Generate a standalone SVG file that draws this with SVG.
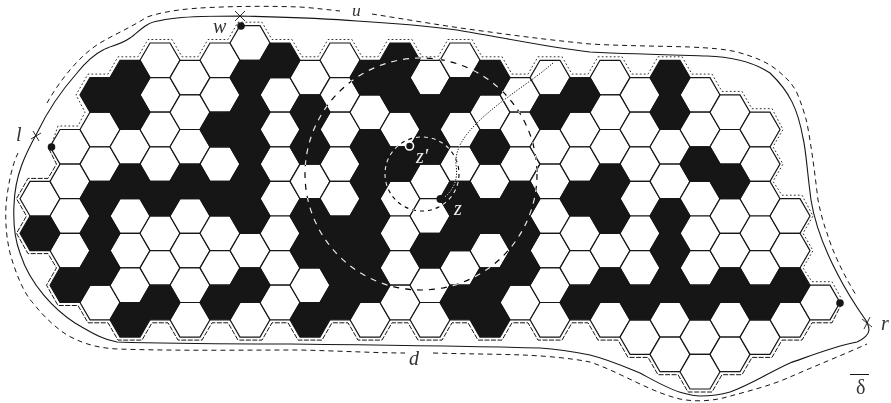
<svg xmlns="http://www.w3.org/2000/svg" xmlns:xlink="http://www.w3.org/1999/xlink" width="891" height="403" viewBox="0 0 891 403">
<style>
.w use{fill:#fff;stroke:#161616;stroke-width:1.2}
.b use{fill:#161616;stroke:#161616;stroke-width:1.2}
.sol{fill:none;stroke:#161616;stroke-width:1.1}
.out{fill:none;stroke:#161616;stroke-width:1;stroke-dasharray:5 4}
.dot{fill:none;stroke:#333;stroke-width:1;stroke-dasharray:1 3;stroke-linecap:round;stroke-linejoin:round}
.dsh{fill:none;stroke:#161616;stroke-width:1;stroke-dasharray:5 1.5}
.inv{fill:none;stroke:#fff;mix-blend-mode:difference}
.cross{fill:none;stroke:#161616;stroke-width:.9}
text{font-family:"Liberation Serif",serif;font-size:20px;fill:#333}
.it{font-style:italic}
</style>
<defs><polygon id="h" points="-20,0 -10,-17.3 10,-17.3 20,0 10,17.3 -10,17.3"/></defs>
<rect width="891" height="403" fill="#fff"/>
<g id="white-cells" class="w">
<use href="#h" x="40" y="198.7"/>
<use href="#h" x="70" y="146.8"/><use href="#h" x="70" y="181.4"/><use href="#h" x="70" y="216"/><use href="#h" x="70" y="250.6"/>
<use href="#h" x="100" y="129.5"/><use href="#h" x="100" y="164.1"/><use href="#h" x="100" y="302.5"/>
<use href="#h" x="130" y="146.8"/><use href="#h" x="130" y="216"/><use href="#h" x="130" y="250.6"/><use href="#h" x="130" y="285.2"/>
<use href="#h" x="160" y="60.3"/><use href="#h" x="160" y="94.9"/><use href="#h" x="160" y="129.5"/><use href="#h" x="160" y="164.1"/><use href="#h" x="160" y="233.3"/><use href="#h" x="160" y="267.9"/>
<use href="#h" x="190" y="77.6"/><use href="#h" x="190" y="112.2"/><use href="#h" x="190" y="146.8"/><use href="#h" x="190" y="216"/><use href="#h" x="190" y="250.6"/><use href="#h" x="190" y="285.2"/><use href="#h" x="190" y="319.8"/>
<use href="#h" x="220" y="60.3"/><use href="#h" x="220" y="94.9"/><use href="#h" x="220" y="164.1"/><use href="#h" x="220" y="233.3"/><use href="#h" x="220" y="267.9"/>
<use href="#h" x="250" y="43"/><use href="#h" x="250" y="250.6"/><use href="#h" x="250" y="319.8"/>
<use href="#h" x="280" y="94.9"/><use href="#h" x="280" y="129.5"/><use href="#h" x="280" y="164.1"/><use href="#h" x="280" y="198.7"/><use href="#h" x="280" y="233.3"/><use href="#h" x="280" y="267.9"/><use href="#h" x="280" y="302.5"/>
<use href="#h" x="310" y="77.6"/><use href="#h" x="310" y="181.4"/><use href="#h" x="310" y="285.2"/>
<use href="#h" x="340" y="60.3"/><use href="#h" x="340" y="94.9"/><use href="#h" x="340" y="129.5"/><use href="#h" x="340" y="164.1"/><use href="#h" x="340" y="198.7"/>
<use href="#h" x="370" y="112.2"/><use href="#h" x="370" y="319.8"/>
<use href="#h" x="400" y="129.5"/><use href="#h" x="400" y="198.7"/><use href="#h" x="400" y="233.3"/><use href="#h" x="400" y="267.9"/><use href="#h" x="400" y="302.5"/>
<use href="#h" x="430" y="77.6"/><use href="#h" x="430" y="181.4"/><use href="#h" x="430" y="216"/><use href="#h" x="430" y="285.2"/><use href="#h" x="430" y="319.8"/>
<use href="#h" x="460" y="60.3"/><use href="#h" x="460" y="129.5"/><use href="#h" x="460" y="164.1"/><use href="#h" x="460" y="267.9"/>
<use href="#h" x="490" y="112.2"/><use href="#h" x="490" y="181.4"/><use href="#h" x="490" y="250.6"/>
<use href="#h" x="520" y="94.9"/><use href="#h" x="520" y="129.5"/><use href="#h" x="520" y="164.1"/><use href="#h" x="520" y="302.5"/>
<use href="#h" x="550" y="77.6"/><use href="#h" x="550" y="146.8"/><use href="#h" x="550" y="181.4"/><use href="#h" x="550" y="216"/><use href="#h" x="550" y="250.6"/><use href="#h" x="550" y="285.2"/><use href="#h" x="550" y="319.8"/>
<use href="#h" x="580" y="129.5"/><use href="#h" x="580" y="164.1"/><use href="#h" x="580" y="233.3"/><use href="#h" x="580" y="267.9"/>
<use href="#h" x="610" y="77.6"/><use href="#h" x="610" y="112.2"/><use href="#h" x="610" y="146.8"/><use href="#h" x="610" y="250.6"/><use href="#h" x="610" y="319.8"/>
<use href="#h" x="640" y="94.9"/><use href="#h" x="640" y="129.5"/><use href="#h" x="640" y="164.1"/><use href="#h" x="640" y="198.7"/><use href="#h" x="640" y="233.3"/><use href="#h" x="640" y="267.9"/><use href="#h" x="640" y="337.1"/>
<use href="#h" x="670" y="146.8"/><use href="#h" x="670" y="181.4"/><use href="#h" x="670" y="319.8"/><use href="#h" x="670" y="354.4"/>
<use href="#h" x="700" y="94.9"/><use href="#h" x="700" y="129.5"/><use href="#h" x="700" y="198.7"/><use href="#h" x="700" y="233.3"/><use href="#h" x="700" y="267.9"/><use href="#h" x="700" y="337.1"/><use href="#h" x="700" y="371.7"/>
<use href="#h" x="730" y="112.2"/><use href="#h" x="730" y="146.8"/><use href="#h" x="730" y="216"/><use href="#h" x="730" y="250.6"/><use href="#h" x="730" y="319.8"/><use href="#h" x="730" y="354.4"/>
<use href="#h" x="760" y="129.5"/><use href="#h" x="760" y="164.1"/><use href="#h" x="760" y="198.7"/><use href="#h" x="760" y="233.3"/><use href="#h" x="760" y="267.9"/><use href="#h" x="760" y="337.1"/>
<use href="#h" x="790" y="216"/><use href="#h" x="790" y="250.6"/><use href="#h" x="790" y="319.8"/>
<use href="#h" x="820" y="302.5"/>
</g>
<g id="black-cells" class="b">
<use href="#h" x="40" y="233.3"/>
<use href="#h" x="70" y="285.2"/>
<use href="#h" x="100" y="94.9"/><use href="#h" x="100" y="198.7"/><use href="#h" x="100" y="233.3"/><use href="#h" x="100" y="267.9"/>
<use href="#h" x="130" y="77.6"/><use href="#h" x="130" y="112.2"/><use href="#h" x="130" y="181.4"/><use href="#h" x="130" y="319.8"/>
<use href="#h" x="160" y="198.7"/><use href="#h" x="160" y="302.5"/>
<use href="#h" x="190" y="181.4"/>
<use href="#h" x="220" y="129.5"/><use href="#h" x="220" y="198.7"/><use href="#h" x="220" y="302.5"/>
<use href="#h" x="250" y="77.6"/><use href="#h" x="250" y="112.2"/><use href="#h" x="250" y="146.8"/><use href="#h" x="250" y="181.4"/><use href="#h" x="250" y="216"/><use href="#h" x="250" y="285.2"/>
<use href="#h" x="280" y="60.3"/>
<use href="#h" x="310" y="112.2"/><use href="#h" x="310" y="146.8"/><use href="#h" x="310" y="216"/><use href="#h" x="310" y="250.6"/><use href="#h" x="310" y="319.8"/>
<use href="#h" x="340" y="233.3"/><use href="#h" x="340" y="267.9"/><use href="#h" x="340" y="302.5"/>
<use href="#h" x="370" y="77.6"/><use href="#h" x="370" y="146.8"/><use href="#h" x="370" y="181.4"/><use href="#h" x="370" y="216"/><use href="#h" x="370" y="250.6"/><use href="#h" x="370" y="285.2"/>
<use href="#h" x="400" y="60.3"/><use href="#h" x="400" y="94.9"/><use href="#h" x="400" y="164.1"/>
<use href="#h" x="430" y="112.2"/><use href="#h" x="430" y="146.8"/><use href="#h" x="430" y="250.6"/>
<use href="#h" x="460" y="94.9"/><use href="#h" x="460" y="198.7"/><use href="#h" x="460" y="233.3"/><use href="#h" x="460" y="302.5"/>
<use href="#h" x="490" y="77.6"/><use href="#h" x="490" y="146.8"/><use href="#h" x="490" y="216"/><use href="#h" x="490" y="285.2"/><use href="#h" x="490" y="319.8"/>
<use href="#h" x="520" y="198.7"/><use href="#h" x="520" y="233.3"/><use href="#h" x="520" y="267.9"/>
<use href="#h" x="550" y="112.2"/>
<use href="#h" x="580" y="94.9"/><use href="#h" x="580" y="198.7"/><use href="#h" x="580" y="302.5"/>
<use href="#h" x="610" y="181.4"/><use href="#h" x="610" y="216"/><use href="#h" x="610" y="285.2"/>
<use href="#h" x="640" y="302.5"/>
<use href="#h" x="670" y="77.6"/><use href="#h" x="670" y="112.2"/><use href="#h" x="670" y="216"/><use href="#h" x="670" y="250.6"/><use href="#h" x="670" y="285.2"/>
<use href="#h" x="700" y="164.1"/><use href="#h" x="700" y="302.5"/>
<use href="#h" x="730" y="181.4"/><use href="#h" x="730" y="285.2"/>
<use href="#h" x="760" y="302.5"/>
<use href="#h" x="790" y="285.2"/>
</g>
<g id="boundaries">
<path class="dot" d="M51,146 L58,126 H78 L85,112.2 L76,94.9 L88,74.1 H108 L118,56.8 H138 L148,39.5 H172 L182,56.8 H198 L208,39.5 H228 L238,22.2 H262 L272,39.5 H292 L302,56.8 H318 L328,39.5 H352 L362,56.8 H378 L388,39.5 H412 L422,56.8 H438 L448,39.5 H472 L482,56.8 H502 L512,74.1 H528 L538,56.8 H562 L572,74.1 H588 L598,56.8 H622 L632,74.1 H648 L658,56.8 H682 L692,74.1 H712 L722,91.4 H742 L752,108.7 H772 L783,129.5 L773,146.8 L783,164.1 L773,181.4 L782,195.2 H802 L813,216 L803,233.3 L813,250.6 L803,267.9 L812,281.7 H832 L841,298"/>
<path class="dsh" d="M842,303 L832,322.8 H812 L802,340.1 H782 L772,357.4 H752 L742,374.7 H722 L712,392 H688 L678,374.7 H658 L648,357.4 H628 L618,340.1 H598 L588,322.8 H572 L562,340.1 H538 L528,322.8 H512 L502,340.1 H478 L468,322.8 H452 L442,340.1 H418 L408,322.8 H392 L382,340.1 H358 L348,322.8 H332 L322,340.1 H298 L288,322.8 H272 L262,340.1 H238 L228,322.8 H212 L202,340.1 H178 L168,322.8 H152 L142,340.1 H118 L108,322.8 H88 L78,305.5 H58 L46.5,285.2 L56.5,267.9 L48,253.6 H28 L16.5,233.3 L26.5,216 L16.5,198.7 L28,178.4 H48 L56.5,164.1 L49,149"/>
</g>
<g id="connectors">
<path class="sol" d="M867,322 C855,305 843,285 837,273 C825,250 815,225 811,200 C807,170 806,150 803,138 C798,110 790,92 770,73 C755,63 735,57 707,56 C670,55 630,54 590,52 C540,46 500,37 457,30 C420,25 390,23 357,21 C320,18 280,17 240,16 C215,16 195,16 177,18 C160,20 150,22 147,25 C140,29 135,35 130,38 C120,45 110,46 103,50 C95,54 85,63 77,73 C62,90 47,112 37,133 C25,155 15,175 14,205 C13,225 15,240 20,253 C30,285 55,310 75,323 C95,335 105,340 117,342 C180,344 240,344 290,344 C380,345 470,346 540,348 C555,349 575,352 590,355 C610,360 630,369 640,373 C655,381 670,390 683,393 C690,395 695,396 700,396 C710,396 720,395 730,392 C750,385 770,372 790,363 C810,356 835,346 857,342 C864,339 869,334 869,330 C869,327 868,325 867,322"/>
<path class="out" d="M18,153 C12,165 8,185 6,205 C5,225 7,240 10,253 C16,275 25,295 33,303 C45,318 55,327 67,335 C85,345 100,348 117,349 C180,351 240,350 300,350 C340,351 380,353 405,353"/>
<path class="out" d="M433,353 C465,354 495,354 523,355 C545,356 570,358 590,362 C620,372 650,392 680,399 C695,402 710,401 723,398 C745,392 770,386 790,377 C815,366 845,354 867,344"/>
<path class="out" d="M47,103 C60,80 80,55 100,43 C115,34 130,28 147,17 C165,11 185,9 200,8 C235,6 270,6 300,7 C315,8 330,10 340,11"/>
<path class="out" d="M372,14 C410,20 450,27 490,32 C525,37 560,41 590,44 C625,46 660,46 690,47 C710,48 725,49 737,52 C755,57 767,62 777,70 C788,79 793,85 797,93 C802,105 805,115 807,123 C812,150 815,175 818,200 C821,215 824,225 827,233 C832,250 842,272 856,295"/>
<circle class="inv" cx="421" cy="174" r="116" stroke-width="1.2" stroke-dasharray="6 6"/>
<circle class="inv" cx="422" cy="174" r="37" stroke-width="1.1" stroke-dasharray="4 4"/>
<path class="inv" stroke-width="1" stroke-dasharray="1.2 1.6" d="M553,63 C530,83 500,100 477,123 C462,138 455,150 456,165 C458,178 455,190 442,199"/>
<path class="cross" d="M235,11 L245,21 M245,11 L235,21 M31,139 L41,133 M33,131 L39,141 M862,319 L872,327 M870,317 L864,329"/>
<line x1="850" y1="374.5" x2="869" y2="374.5" stroke="#161616" stroke-width="1"/>
</g>
<g id="points">
<circle cx="241" cy="26" r="3.8" fill="#161616"/>
<circle cx="51.500" cy="147" r="3.800" fill="#161616"/>
<circle cx="840" cy="303" r="3.800" fill="#161616"/>
<circle cx="440.500" cy="199" r="4" fill="#161616"/>
<circle cx="409.500" cy="146" r="4" fill="#161616" stroke="#fff" stroke-width="1.600"/>
</g>
<g id="labels">
<text class="it" x="352" y="16" style="font-size:17.500px">u</text>
<text class="it" x="213" y="33">w</text>
<text class="it" x="16" y="141">l</text>
<text class="it" x="881" y="330">r</text>
<text class="it" x="409" y="365">d</text>
<text x="856" y="394">δ</text>
<text class="it" x="416" y="163" style="fill:#eee">z′</text>
<text class="it" x="454" y="215" style="fill:#eee">z</text>
</g>
</svg>
